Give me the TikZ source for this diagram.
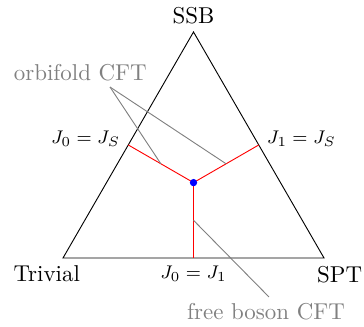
\documentclass[tikz,border=0pt]{standalone}
\usepackage{amsmath}

\begin{document}
\begin{tikzpicture}[auto,
    phase/.style={font=\footnotesize},
    cft/.style={gray},
    dot/.style={circle, fill=blue, inner sep=0pt, minimum size=3.2pt}]

    \useasboundingbox (-0.966,-1.057) rectangle (4.613,3.954);

    % Corners of the phase triangle
    \coordinate (v1) at (0,0);
    \coordinate (v2) at (4,0);
    \coordinate (v3) at (2,3.464);
    % Midpoints of the edges
    \coordinate (m1) at (1,1.732);
    \coordinate (m2) at (3,1.732);
    \coordinate (m3) at (2,0);
    \coordinate (c) at (2,1.155);

    \draw (v1) -- (v2) -- (v3) -- cycle;
    \draw[red] (c) -- (m1);
    \draw[red] (c) -- (m2);
    \draw[red] (c) -- (m3);
    \node[dot] (tri) at (c) {};

    % Phase labels
    \node[above] (ssb) at (v3) {SSB};
    \node[below] (triv) at (-0.25,0) {Trivial};
    \node[below] (spt) at (4.24,0) {SPT};
    \node[phase, left, yshift=0.09cm] (l1) at (m1) {$J_0 = J_S$};
    \node[phase, right, yshift=0.09cm] (l2) at (m2) {$J_1 = J_S$};
    \node[phase, below] (l3) at (m3) {$J_0 = J_1$};

    % CFT labels
    \coordinate (o1) at (1.5,1.443);
    \coordinate (o2) at (2.5,1.443);
    \coordinate (f1) at (2,0.577);
    \node[cft] (orb) at (0.265,2.835) {orbifold CFT};
    \coordinate (orbpt) at (0.72,2.62);
    \draw[cft] (orbpt) -- (o1);
    \draw[cft] (orbpt) -- (o2);
    \node[cft] (fb) at (3.111,-0.828) {free boson CFT};
    \coordinate (fbpt) at (3.157,-0.598);
    \draw[cft] (f1) -- (fbpt);
\end{tikzpicture}
\end{document}
